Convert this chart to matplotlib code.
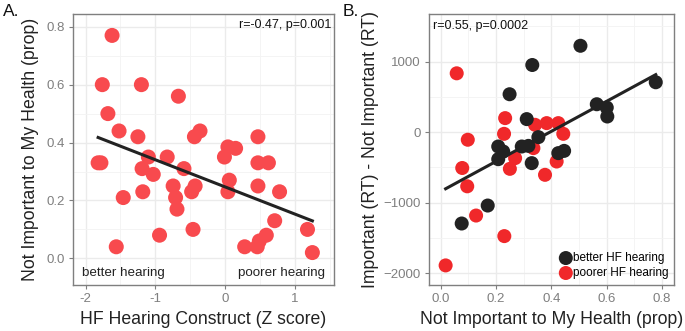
import numpy as np
import matplotlib
matplotlib.use("Agg")
import matplotlib.pyplot as plt
from matplotlib.ticker import MultipleLocator

plt.rcParams['font.family'] = ['Liberation Sans', 'DejaVu Sans']

# Panel A data: HF hearing construct (Z) vs Not-important proportion
a_z = [-1.62, -1.76, -1.20, -0.67, -1.68, -1.52, -1.25, -0.36, -0.44, -1.82, -1.78,
       -1.10, -1.19, -1.03, -0.83, -0.59, -1.18, -0.745, -0.71, -0.69, -0.48, -0.43,
       -1.46, -0.94, -1.56, -0.46, -0.01, 0.04, 0.15, 0.06, 0.04, 0.47, 0.47, 0.62,
       0.47, 0.78, 0.71, 0.59, 0.49, 0.46, 0.28, 1.18, 1.25]
a_prop = [0.77, 0.60, 0.60, 0.56, 0.50, 0.44, 0.42, 0.44, 0.42, 0.33, 0.33,
          0.35, 0.31, 0.29, 0.35, 0.31, 0.23, 0.25, 0.21, 0.17, 0.23, 0.25,
          0.21, 0.08, 0.04, 0.10, 0.35, 0.385, 0.38, 0.27, 0.23, 0.42, 0.33, 0.33,
          0.25, 0.23, 0.13, 0.08, 0.06, 0.04, 0.04, 0.10, 0.02]

# Panel B data: Not-important proportion vs RT difference
b_better_x = [0.505, 0.331, 0.249, 0.777, 0.564, 0.600, 0.602, 0.311, 0.353, 0.208,
              0.226, 0.208, 0.293, 0.317, 0.329, 0.425, 0.446, 0.17, 0.076]
b_better_y = [1226, 953, 538, 708, 396, 349, 222, 185, -71, -204,
              -275, -384, -204, -195, -440, -298, -266, -1042, -1297]
b_poorer_x = [0.058, 0.098, 0.233, 0.229, 0.341, 0.383, 0.425, 0.443, 0.335, 0.269,
              0.25, 0.419, 0.377, 0.078, 0.096, 0.128, 0.23, 0.018]
b_poorer_y = [835, -108, 199, -24, 104, 128, 128, -24, -227, -369,
              -521, -417, -606, -509, -769, -1184, -1476, -1892]

a_stat = "r=-0.47, p=0.001"
b_stat = "r=0.55, p=0.0002"
group_labels = ["better HF hearing", "poorer HF hearing"]

W, H = 685, 331
fig = plt.figure(figsize=(W / 100, H / 100), dpi=100)

grey = '#7F7F7F'
grid_major = '#EBEBEB'


def style(ax):
    ax.set_facecolor('white')
    for s in ax.spines.values():
        s.set_color(grey)
        s.set_linewidth(1.0)
    ax.grid(True, which='major', color=grid_major, lw=1.0)
    ax.grid(True, which='minor', color='#F3F3F3', lw=0.6)
    ax.set_axisbelow(True)
    ax.tick_params(which='major', length=3, width=0.8, color=grey,
                   labelcolor=grey, labelsize=9.5, pad=3)
    ax.tick_params(which='minor', length=0)


axA = fig.add_axes([73 / W, 1 - 285 / H, 261 / W, 271 / H])
style(axA)
axA.scatter(a_z, a_prop, s=117, color='#F84A4E', edgecolors='none', zorder=3)
k, b = np.polyfit(a_z, a_prop, 1)
xs = np.array([min(a_z), max(a_z)])
axA.plot(xs, k * xs + b, color='#222222', lw=2.2, zorder=4)
axA.set_xlim(-2.18, 1.56)
axA.set_ylim(-0.092, 0.844)
axA.set_xticks([-2, -1, 0, 1])
axA.set_xticklabels(['-2', '-1', '0', '1'])
axA.set_yticks([0, 0.2, 0.4, 0.6, 0.8])
axA.set_yticklabels(['0.0', '0.2', '0.4', '0.6', '0.8'])
axA.xaxis.set_minor_locator(MultipleLocator(0.5))
axA.yaxis.set_minor_locator(MultipleLocator(0.1))
axA.set_xlabel("HF Hearing Construct (Z score)", fontsize=12.7, color='#222222', labelpad=4)
axA.set_ylabel("Not Important to My Health (prop)", fontsize=12.7, color='#222222', labelpad=5)
axA.text(0.991, 0.959, a_stat, transform=axA.transAxes, ha='right', va='center',
         fontsize=9, color='#111111')
axA.text(0.033, 0.044, "better hearing", transform=axA.transAxes, ha='left', va='center',
         fontsize=9.6, color='#222222')
axA.text(0.966, 0.044, "poorer hearing", transform=axA.transAxes, ha='right', va='center',
         fontsize=9.6, color='#222222')

axB = fig.add_axes([429.3 / W, 1 - 285 / H, 245 / W, 271 / H])
style(axB)
axB.scatter(b_better_x, b_better_y, s=102, color='#222222', edgecolors='none', zorder=3,
            label=group_labels[0])
axB.scatter(b_poorer_x, b_poorer_y, s=102, color='#F0282A', edgecolors='none', zorder=2,
            label=group_labels[1])
allx = np.array(b_better_x + b_poorer_x)
ally = np.array(b_better_y + b_poorer_y)
k2, b2 = np.polyfit(allx, ally, 1)
xs2 = np.array([allx.min(), allx.max()])
axB.plot(xs2, k2 * xs2 + b2, color='#222222', lw=2.2, zorder=4)
axB.set_xlim(-0.041, 0.844)
axB.set_ylim(-2170, 1677)
axB.set_xticks([0, 0.2, 0.4, 0.6, 0.8])
axB.set_xticklabels(['0.0', '0.2', '0.4', '0.6', '0.8'])
axB.set_yticks([-2000, -1000, 0, 1000])
axB.xaxis.set_minor_locator(MultipleLocator(0.1))
axB.yaxis.set_minor_locator(MultipleLocator(500))
axB.set_xlabel("Not Important to My Health (prop)", fontsize=12.7, color='#222222', labelpad=4)
axB.set_ylabel("Important (RT) - Not Important (RT)", fontsize=12.7, color='#222222', labelpad=3)
axB.text(0.016, 0.956, b_stat, transform=axB.transAxes, ha='left', va='center',
         fontsize=9, color='#111111')
axB.legend(loc='lower right', bbox_to_anchor=(1.0, 0.0), frameon=False, fontsize=8.5,
           handletextpad=0.0, labelspacing=0.25, borderaxespad=0.3, borderpad=0.2,
           handlelength=1.2, markerscale=1.0)

fig.text(3 / W, 1 - 11 / H, "A.", fontsize=12.5, ha='left', va='center', color='#111111')
fig.text(343 / W, 1 - 11 / H, "B.", fontsize=12.5, ha='left', va='center', color='#111111')

fig.savefig("out.png", dpi=100)
